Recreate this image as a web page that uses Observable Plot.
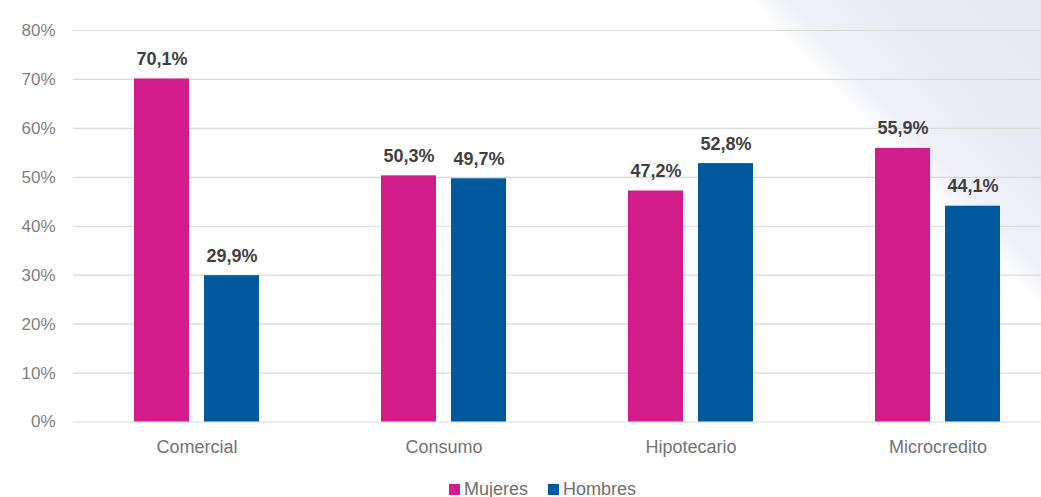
<!DOCTYPE html>
<html>
<head>
<meta charset="utf-8">
<script src="https://cdn.jsdelivr.net/npm/d3@7"></script>
<script src="https://cdn.jsdelivr.net/npm/@observablehq/plot@0.6"></script>
<style>
  html, body { margin: 0; padding: 0; }
  body {
    width: 1041px; height: 497px; overflow: hidden;
    font-family: "Liberation Sans", Arial, sans-serif;
    background: linear-gradient(46.5deg, #ffffff 80.5%, #f0f1f8 83%, #e8eaf4 90%, #e5e8f3 100%);
  }
  #wrap { width: 1041px; overflow: hidden; }
  #legend { display: flex; align-items: center; margin-top: 13px; margin-left: 449px;
            font-size: 18px; color: #6f6f6f; line-height: 20px; }
  .item { display: flex; align-items: center; margin-right: 20px; }
  .sw { width: 11px; height: 11px; margin-right: 4px; }
</style>
</head>
<body>
<div id="wrap"></div>
<div id="legend"></div>
<script>
const categories = ["Comercial", "Consumo", "Hipotecario", "Microcredito"];
const series = ["Mujeres", "Hombres"];
const mujeres = [70.1, 50.3, 47.2, 55.9];
const hombres = [29.9, 49.7, 52.8, 44.1];
const yTicks = [0, 10, 20, 30, 40, 50, 60, 70, 80];
const colors = ["#D21C8C", "#00599C"];

const data = [];
categories.forEach((c, i) => {
  data.push({cat: c, sex: series[0], value: mujeres[i]});
  data.push({cat: c, sex: series[1], value: hombres[i]});
});
const fmt = v => v.toFixed(1).replace(".", ",") + "%";

const chart = Plot.plot({
  width: 1062,
  height: 466,
  marginLeft: 71,
  marginRight: 0,
  marginTop: 30,
  marginBottom: 44.5,
  style: {background: "transparent", maxWidth: "none", fontFamily: "Liberation Sans, Arial, sans-serif"},
  fx: {domain: categories, padding: 0},
  x: {domain: series, paddingInner: 0.22, paddingOuter: 0.85, axis: null},
  y: {domain: [0, 80]},
  color: {domain: series, range: colors},
  marks: [
    Plot.gridY(yTicks, {stroke: "#d9d9d9", strokeOpacity: 1, strokeWidth: 1.2}),
    Plot.axisY(yTicks, {tickSize: 0, tickPadding: 18, tickFormat: d => d + "%", fontSize: 17, fill: "#7f7f7f", label: null}),
    Plot.axisFx({anchor: "bottom", tickSize: 0, tickPadding: 18, fontSize: 18, fill: "#737373", label: null}),
    Plot.barY(data, {fx: "cat", x: "sex", y: "value", fill: "sex"}),
    Plot.text(data, {fx: "cat", x: "sex", y: "value", text: d => fmt(d.value), dy: -14, lineAnchor: "bottom",
      fontWeight: "bold", fontSize: 18, fill: "#404040"})
  ]
});
document.getElementById("wrap").appendChild(chart);

const lg = document.getElementById("legend");
series.forEach((s, i) => {
  const it = document.createElement("div");
  it.className = "item";
  const sw = document.createElement("span");
  sw.className = "sw";
  sw.style.background = colors[i];
  const t = document.createElement("span");
  t.textContent = s;
  it.appendChild(sw); it.appendChild(t);
  lg.appendChild(it);
});
</script>
</body>
</html>
